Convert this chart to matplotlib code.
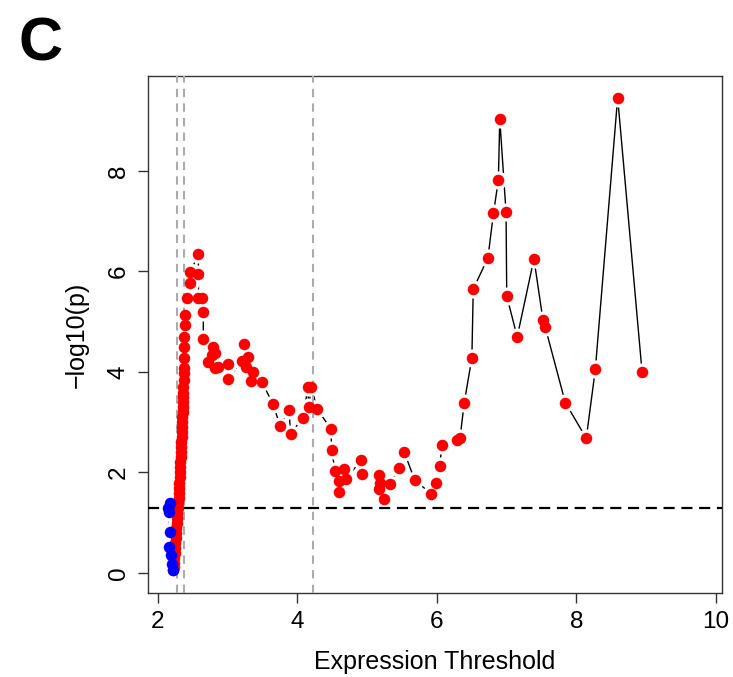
import matplotlib
matplotlib.use("Agg")
import matplotlib.pyplot as plt
import numpy as np

plt.rcParams['font.family'] = ['Liberation Sans', 'DejaVu Sans']

# ---- points below / near significance (blue)
blue_x = [2.16, 2.17, 2.15, 2.17, 2.165, 2.19, 2.20, 2.21]
blue_y = [1.21, 1.39, 1.30, 0.82, 0.52, 0.35, 0.18, 0.05]

# ---- steep column of red points near threshold 2.2 - 2.4
col_x = [2.22, 2.225, 2.23, 2.235, 2.24, 2.245, 2.25, 2.255, 2.26, 2.265,
         2.27, 2.275, 2.28, 2.285, 2.29, 2.295, 2.30, 2.303, 2.306, 2.31,
         2.315, 2.318, 2.322, 2.325, 2.328, 2.332, 2.335, 2.338, 2.342, 2.345,
         2.348, 2.35, 2.352, 2.355, 2.358, 2.36, 2.362, 2.365, 2.368, 2.37,
         2.372, 2.375, 2.378, 2.38, 2.385, 2.39]
col_y = [0.05, 0.12, 0.20, 0.30, 0.40, 0.50, 0.60, 0.70, 0.80, 0.90,
         1.00, 1.10, 1.20, 1.30, 1.40, 1.50, 1.60, 1.70, 1.80, 1.90,
         2.00, 2.10, 2.20, 2.30, 2.40, 2.50, 2.60, 2.70, 2.80, 2.90,
         3.00, 3.10, 3.20, 3.30, 3.40, 3.50, 3.58, 3.71, 3.84, 3.97,
         4.07, 4.27, 4.49, 4.69, 4.93, 5.13]

# ---- remaining red points
red_x = [2.41, 2.46, 2.46, 2.58, 2.58, 2.58, 2.63, 2.65, 2.65, 2.72,
         2.77, 2.79, 2.82, 2.82, 2.86, 3.00, 3.00, 3.20, 3.24, 3.26,
         3.29, 3.33, 3.36, 3.49, 3.65, 3.75, 3.88, 3.90, 4.08, 4.15,
         4.16, 4.20, 4.28, 4.48, 4.49, 4.54, 4.59, 4.60, 4.66, 4.69,
         4.91, 4.93, 5.17, 5.18, 5.17, 5.24, 5.33, 5.45, 5.53, 5.68,
         5.92, 5.99, 6.04, 6.07, 6.28, 6.33, 6.39, 6.50, 6.52, 6.73,
         6.81, 6.88, 6.90, 6.99, 7.00, 7.15, 7.39, 7.52, 7.55, 7.84,
         8.14, 8.27, 8.59, 8.94]
red_y = [5.48, 5.77, 5.98, 6.34, 5.94, 5.48, 5.48, 5.20, 4.66, 4.19,
         4.34, 4.50, 4.37, 4.07, 4.10, 4.15, 3.87, 4.21, 4.56, 4.10,
         4.29, 3.83, 4.00, 3.80, 3.36, 2.93, 3.24, 2.77, 3.09, 3.70,
         3.31, 3.71, 3.26, 2.87, 2.45, 2.02, 1.61, 1.84, 2.07, 1.86,
         2.24, 1.96, 1.94, 1.80, 1.67, 1.47, 1.77, 2.08, 2.41, 1.85,
         1.57, 1.80, 2.12, 2.55, 2.65, 2.68, 3.38, 4.28, 5.65, 6.27,
         7.16, 7.82, 9.03, 7.18, 5.51, 4.70, 6.25, 5.03, 4.90, 3.39,
         2.68, 4.05, 9.46, 4.00]

cutoffs = [2.27, 2.37, 4.22]
p_cut = 0.05

xs = np.array(blue_x + col_x + red_x)
ys = np.array(blue_y + col_y + red_y)
order = np.argsort(xs, kind='stable')

fig = plt.figure(figsize=(7.33, 6.77), dpi=100)
ax = fig.add_axes([0.2019, 0.124, 0.7831, 0.7637])

# ---- line with gaps around points (like R type="b")
ax.plot(xs[order], ys[order], color='black', lw=1.0, zorder=1)
ax.plot(xs, ys, 'o', color='white', ms=13, mew=0, zorder=2)

for c in cutoffs:
    ax.axvline(c, color='#ababab', lw=1.5, ls=(0, (4, 3)), zorder=3)
ax.axhline(-np.log10(p_cut), color='black', lw=1.6, ls=(0, (5, 3)), zorder=3)

ax.plot(col_x + red_x, col_y + red_y, 'o', color='#ff0000', ms=8.3, mew=0,
        zorder=4)
ax.plot(blue_x, blue_y, 'o', color='#0000ff', ms=8.3, mew=0, zorder=4)

ax.set_xlim(1.857, 10.086)
ax.set_ylim(-0.40, 9.89)
ax.set_xticks([2, 4, 6, 8, 10])
ax.set_yticks([0, 2, 4, 6, 8])
ax.tick_params(direction='out', length=7, width=1, labelsize=17.5, pad=6,
               color='#333333')
for lab in ax.get_yticklabels():
    lab.set_rotation(90)
    lab.set_va('center')

for s in ax.spines.values():
    s.set_color('#333333')
    s.set_linewidth(1)

ax.set_xlabel('Expression Threshold', fontsize=18, labelpad=12)
ax.set_ylabel('\u2212log10(p)', fontsize=18, labelpad=14)

fig.text(0.025, 0.975, 'C', fontsize=44, fontweight='bold', va='top',
         ha='left')

fig.savefig('out.png', dpi=100)
